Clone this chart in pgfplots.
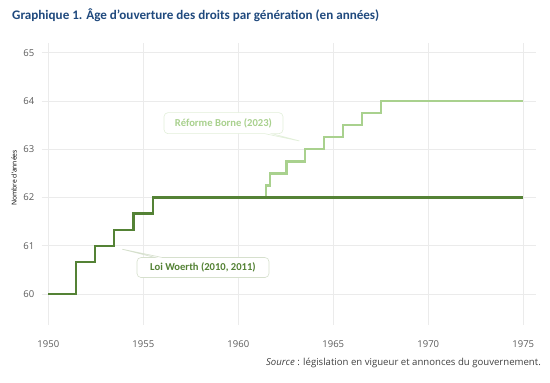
\documentclass[border=0pt]{standalone}
\usepackage{fontspec}
\setmainfont{Open Sans}
\newfontfamily\carlito{Carlito}
\usepackage{pgfplots}
\pgfplotsset{compat=1.18}
\usetikzlibrary{shapes.callouts}
\definecolor{titleblue}{RGB}{31,73,125}
\definecolor{darkgreen}{RGB}{84,130,53}
\definecolor{lightgreen}{RGB}{169,209,142}
\definecolor{gridgrey}{RGB}{235,235,235}
\definecolor{tickgrey}{RGB}{90,90,90}
\begin{document}
\begin{tikzpicture}
\useasboundingbox (-41.7bp,-58bp) rectangle (508.3bp,325bp);
\begin{axis}[
  at={(0,0)}, anchor=south west,
  scale only axis, width=494.3bp, height=282bp,
  xmin=1949.65, xmax=1975.67, ymin=59.36, ymax=65.2,
  xtick={1950,1955,...,1975}, ytick={60,...,65},
  xticklabel style={/pgf/number format/1000 sep={}},
  /pgf/number format/assume math mode=true,
  ticklabel style={font=\fontsize{9.5bp}{11bp}\selectfont, text=tickgrey},
  axis line style={draw=none},
  major tick length=0pt,
  grid=major, major grid style={gridgrey, line width=0.8bp},
  xtick pos=bottom, ytick pos=left,
  xticklabel shift=12bp, yticklabel shift=4bp,
  clip=false,
]
\addplot[const plot, lightgreen, line width=2.4bp] coordinates {
 (1961.47,62) (1961.47,62.25) (1961.68,62.5) (1962.53,62.75) (1963.5,63)
 (1964.5,63.25) (1965.5,63.5) (1966.5,63.75) (1967.5,64) (1975,64)};
\addplot[const plot, darkgreen, line width=2.4bp] coordinates {
 (1950,60) (1951.47,60.6667) (1952.47,61) (1953.47,61.3333) (1954.49,61.6667) (1955.5,62) (1975,62)};
\node[rectangle callout, rounded corners=4bp, fill=white, draw={rgb,255:red,214;green,224;blue,205}, line width=0.6bp,
  minimum width=132bp, minimum height=20bp, inner sep=0pt,
  callout absolute pointer={(axis cs:1953.77,60.94)},
  font=\carlito\bfseries\fontsize{10.6bp}{12bp}\selectfont, text=darkgreen]
  at (axis cs:1958.14,60.55) {Loi Woerth (2010, 2011)};
\node[rectangle callout, rounded corners=4bp, fill=white, draw={rgb,255:red,226;green,239;blue,217}, line width=0.6bp,
  minimum width=119bp, minimum height=21bp, inner sep=0pt,
  callout absolute pointer={(axis cs:1963.34,63.16)},
  font=\carlito\bfseries\fontsize{10.6bp}{12bp}\selectfont, text=lightgreen]
  at (axis cs:1959.22,63.54) {Réforme Borne (2023)};
\end{axis}
\node[rotate=90, font=\fontsize{6.8bp}{8bp}\selectfont, text=black, inner sep=0pt]
  at (-27.7bp,147bp) {Nombre d'années};
\node[anchor=base west, font=\carlito\bfseries\fontsize{13.1bp}{15bp}\selectfont, text=titleblue, inner sep=0pt]
  at (-29.7bp,305bp) {Graphique 1. Âge d’ouverture des droits par génération (en années)};
\node[anchor=base east, font=\fontsize{9.6bp}{11bp}\selectfont, text=black!75, inner sep=0pt]
  at (499.3bp,-40.5bp) {\textit{Source} : législation en vigueur et annonces du gouvernement.};
\end{tikzpicture}
\end{document}
